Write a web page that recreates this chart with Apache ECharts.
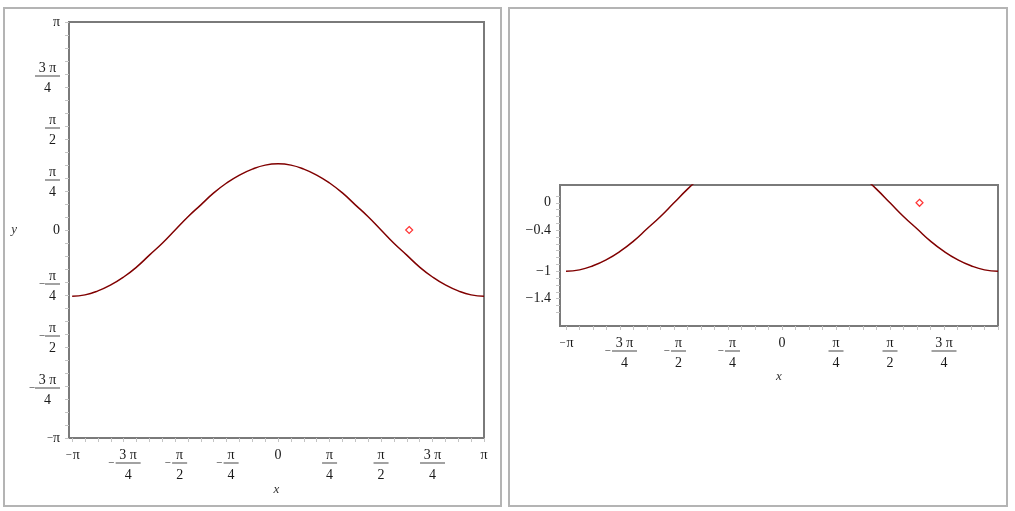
<!DOCTYPE html>
<html><head><meta charset="utf-8">
<script src="https://cdn.jsdelivr.net/npm/echarts@6/dist/echarts.min.js"></script>
<style>html,body{margin:0;padding:0;background:#fff}#c{width:1015px;height:511px}</style>
</head><body><div id="c"></div>
<script>
// curve samples
const curveX = [-3.1416,-2.9452,-2.7489,-2.5525,-2.3562,-2.1598,-1.9635,-1.7671,-1.5708,-1.3744,-1.1781,-0.9817,-0.7854,-0.5890,-0.3927,-0.1963,0,
                0.1963,0.3927,0.5890,0.7854,0.9817,1.1781,1.3744,1.5708,1.7671,1.9635,2.1598,2.3562,2.5525,2.7489,2.9452,3.1416];
const curveY = [-1.00,-0.98,-0.92,-0.83,-0.71,-0.56,-0.38,-0.20,0.00,0.20,0.38,0.56,0.71,0.83,0.92,0.98,1.00,
                0.98,0.92,0.83,0.71,0.56,0.38,0.20,0.00,-0.20,-0.38,-0.56,-0.71,-0.83,-0.92,-0.98,-1.00];
const pointX = [2.0];
const pointY = [0.0];
// tick labels
const piTickLabels = ['−π','−3π/4','−π/2','−π/4','0','π/4','π/2','3π/4','π'];
const piTickValues = [-3.14159,-2.35619,-1.5708,-0.7854,0,0.7854,1.5708,2.35619,3.14159];
const rightXLabelValues = [-3.14159,-2.35619,-1.5708,-0.7854,0,0.7854,1.5708,2.35619];
const rightYLabels = ['−0.4','−1','−1.4','0'];
const rightYValues = [-0.4,-1,-1.4,0];

const FONT = '"Liberation Serif","DejaVu Serif",serif';
const TXT = '#1a1a1a';
const AXC = '#7a7a7a';
const TICKC = '#c4c4c4';

const minorPi = [];
for (let k = -16; k <= 16; k++) minorPi.push(k * Math.PI / 16);
const rightYTicks = [];
for (let k = -16; k <= 1; k++) rightYTicks.push(k / 10);

function richLabel(lbl, padTop) {
  const neg = lbl[0] === '−';
  const body = neg ? lbl.slice(1) : lbl;
  if (body.indexOf('/') < 0) {
    return neg ? '{m|−}{t|' + body + '}' : '{t|' + body + '}';
  }
  const parts = body.split('/');
  const n = parts[0], d = parts[1];
  const k = n.length > 1 ? 'w' : 'n';
  const num = n.replace('3π', '3 π');
  const s1 = (neg ? '{sp| }' : '') + '{num' + k + '|' + num + '}';
  const s2 = (neg ? '{mf|−}' : '') + '{bar' + k + '| }';
  const s3 = (neg ? '{sp| }' : '') + '{den' + k + '|' + d + '}';
  return (padTop ? '{pad| }\n' : '') + s1 + '\n' + s2 + '\n' + s3;
}
function findPi(value) {
  for (let i = 0; i < piTickValues.length; i++) {
    if (Math.abs(piTickValues[i] - value) < 1e-3) return piTickLabels[i];
  }
  return null;
}
function piFormatterX(value) { const l = findPi(value); return l === null ? '' : richLabel(l, false); }
function piFormatterY(value) { const l = findPi(value); return l === null ? '' : richLabel(l, true); }
function rightYFormatter(value) {
  for (let i = 0; i < rightYValues.length; i++) {
    if (Math.abs(rightYValues[i] - value) < 1e-6) return rightYLabels[i];
  }
  return '';
}
const base = {fontFamily: FONT, color: TXT};
const rich = {
  pad: Object.assign({width: 1, fontSize: 2, lineHeight: 12}, base),
  t: Object.assign({fontSize: 14, lineHeight: 14}, base),
  m: Object.assign({fontSize: 11, lineHeight: 14, width: 8}, base),
  sp: Object.assign({width: 9, fontSize: 14, lineHeight: 14}, base),
  mf: Object.assign({width: 9, fontSize: 11, lineHeight: 2}, base),
  numn: Object.assign({width: 15, align: 'center', fontSize: 14, lineHeight: 14}, base),
  numw: Object.assign({width: 25, align: 'center', fontSize: 14, lineHeight: 14}, base),
  barn: {width: 15, height: 1, lineHeight: 2, backgroundColor: '#444', fontSize: 1},
  barw: {width: 25, height: 1, lineHeight: 2, backgroundColor: '#444', fontSize: 1},
  denn: Object.assign({width: 15, align: 'center', fontSize: 14, lineHeight: 22}, base),
  denw: Object.assign({width: 25, align: 'center', fontSize: 14, lineHeight: 22}, base)
};
const labelBase = {fontSize: 14, fontFamily: FONT, color: TXT, lineHeight: 14, rich: rich, hideOverlap: false};
const nameStyle = {fontSize: 13, fontFamily: FONT, fontStyle: 'italic', color: '#333'};
const tickBase = {show: true, inside: false, length: 4, lineStyle: {color: TICKC, width: 1}};
const noLine = {show: false, onZero: false};

const curve = curveX.map((x, i) => [x, curveY[i]]);
const pts = pointX.map((x, i) => [x, pointY[i]]);

const chart = echarts.init(document.getElementById('c'), null, {renderer: 'canvas'});
chart.setOption({
  animation: false,
  backgroundColor: '#fff',
  graphic: [
    {type: 'rect', shape: {x: 4, y: 8, width: 497, height: 498}, style: {fill: 'none', stroke: '#b4b4b4', lineWidth: 2}, silent: true, z: -1},
    {type: 'rect', shape: {x: 509, y: 8, width: 498, height: 498}, style: {fill: 'none', stroke: '#b4b4b4', lineWidth: 2}, silent: true, z: -1}
  ],
  grid: [
    {left: 69, top: 22, width: 415, height: 416, show: true, borderColor: AXC, borderWidth: 2, backgroundColor: 'transparent'},
    {left: 560, top: 185, width: 438, height: 141, show: true, borderColor: AXC, borderWidth: 2, backgroundColor: 'transparent'}
  ],
  xAxis: [
    {type: 'value', gridIndex: 0, min: -3.19, max: Math.PI,
     axisLine: noLine, splitLine: {show: false},
     axisTick: Object.assign({}, tickBase, {customValues: minorPi}),
     axisLabel: Object.assign({}, labelBase, {customValues: piTickValues, formatter: piFormatterX, margin: 10, showMinLabel: true, showMaxLabel: true}),
     name: 'x', nameLocation: 'middle', nameGap: 45, nameMoveOverlap: false, nameTextStyle: nameStyle},
    {type: 'value', gridIndex: 1, min: -3.229, max: Math.PI,
     axisLine: noLine, splitLine: {show: false},
     axisTick: Object.assign({}, tickBase, {customValues: minorPi}),
     axisLabel: Object.assign({}, labelBase, {customValues: rightXLabelValues, formatter: piFormatterX, margin: 10, showMinLabel: true}),
     name: 'x', nameLocation: 'middle', nameGap: 44, nameMoveOverlap: false, nameTextStyle: nameStyle}
  ],
  yAxis: [
    {type: 'value', gridIndex: 0, min: -Math.PI, max: Math.PI,
     axisLine: noLine, splitLine: {show: false},
     axisTick: Object.assign({}, tickBase, {customValues: minorPi}),
     axisLabel: Object.assign({}, labelBase, {customValues: piTickValues, formatter: piFormatterY, margin: 9, showMinLabel: true, showMaxLabel: true}),
     name: 'y', nameLocation: 'middle', nameRotate: 0, nameGap: 52, nameMoveOverlap: false, nameTextStyle: nameStyle},
    {type: 'value', gridIndex: 1, min: -1.8, max: 0.26,
     axisLine: noLine, splitLine: {show: false},
     axisTick: Object.assign({}, tickBase, {customValues: rightYTicks}),
     axisLabel: Object.assign({}, labelBase, {customValues: rightYValues, formatter: rightYFormatter, margin: 9})}
  ],
  series: [
    {type: 'line', xAxisIndex: 0, yAxisIndex: 0, data: curve, smooth: true, showSymbol: false, symbol: 'none',
     lineStyle: {color: '#800000', width: 1.5}, clip: true, silent: true},
    {type: 'scatter', xAxisIndex: 0, yAxisIndex: 0, data: pts, symbol: 'diamond', symbolSize: 7,
     itemStyle: {color: '#fff', borderColor: '#ff0000', borderWidth: 1.2}, silent: true},
    {type: 'line', xAxisIndex: 1, yAxisIndex: 1, data: curve, smooth: true, showSymbol: false, symbol: 'none',
     lineStyle: {color: '#800000', width: 1.5}, clip: true, silent: true},
    {type: 'scatter', xAxisIndex: 1, yAxisIndex: 1, data: pts, symbol: 'diamond', symbolSize: 7,
     itemStyle: {color: '#fff', borderColor: '#ff0000', borderWidth: 1.2}, silent: true}
  ]
});
</script>
</body></html>
